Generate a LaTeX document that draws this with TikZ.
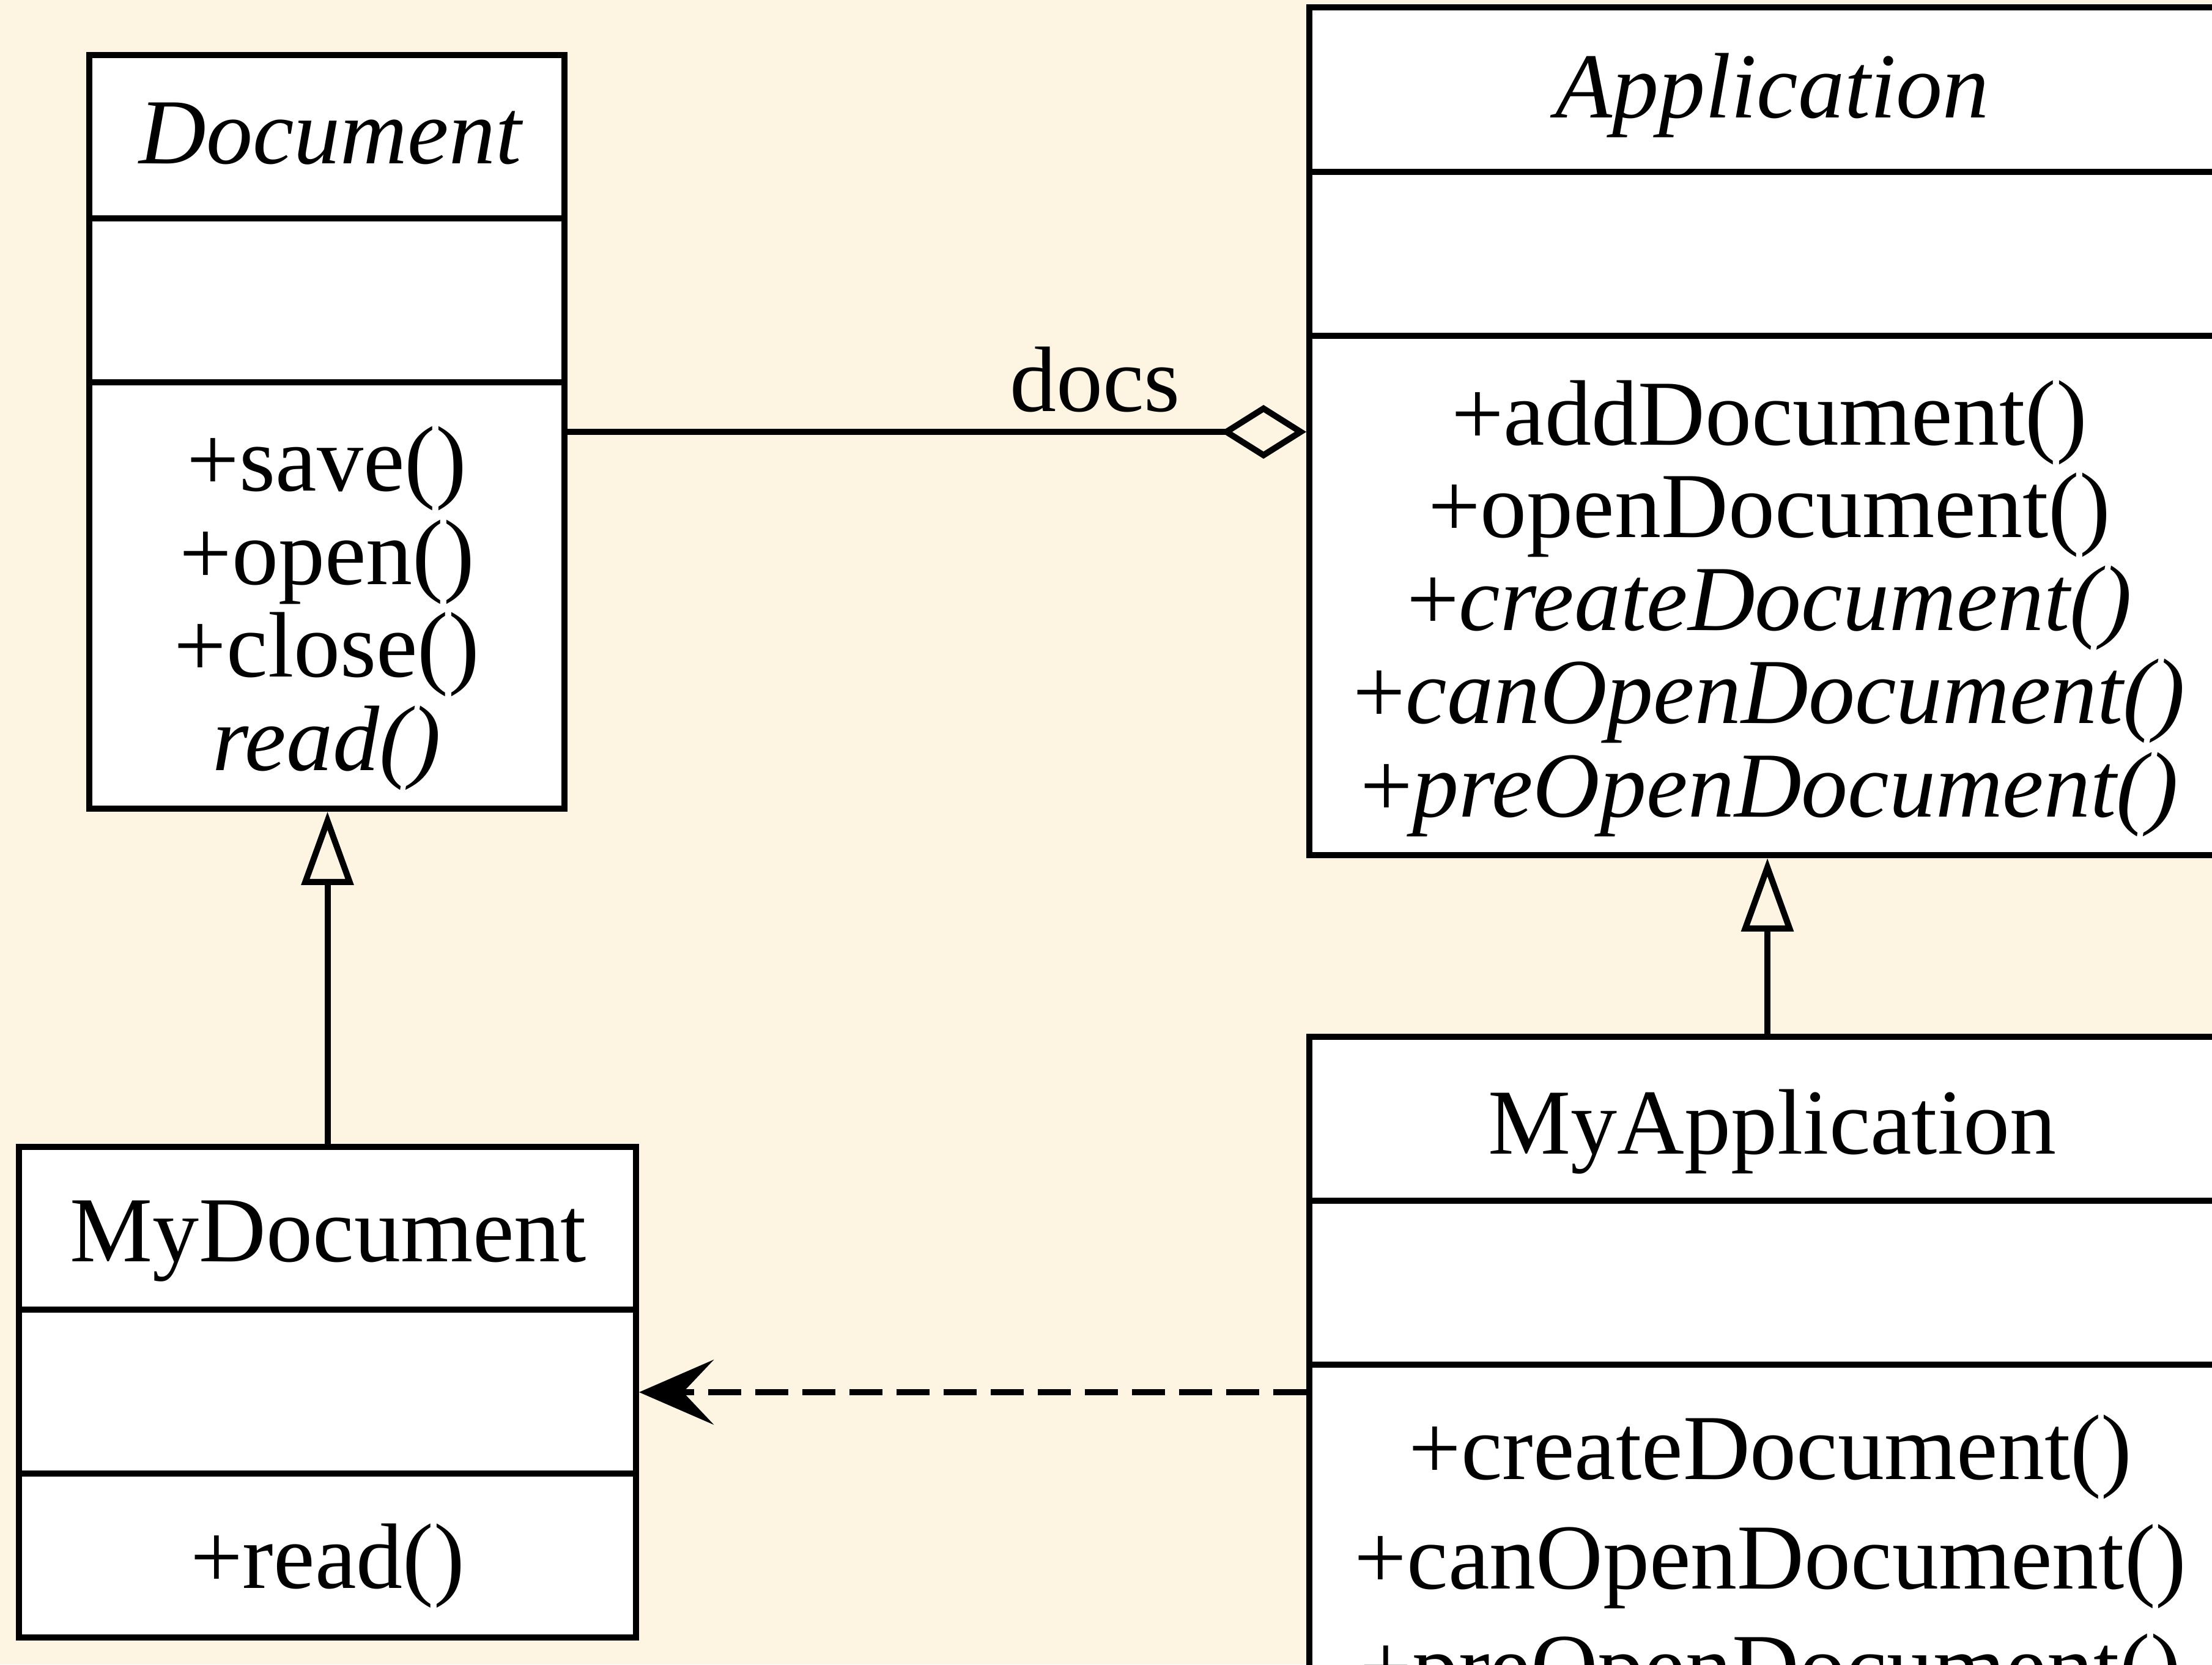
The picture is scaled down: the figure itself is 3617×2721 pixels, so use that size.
\documentclass[tikz,border=0pt]{standalone}
\usepackage{fontspec}
\setmainfont{Liberation Serif}
\usetikzlibrary{arrows.meta}
\definecolor{bgcream}{RGB}{253,245,226}
\begin{document}
\begin{tikzpicture}[x=0.1pt,y=-0.1pt,
  classbox/.style={draw=black, fill=white, line width=1pt, inner sep=0pt},
  sep/.style={line width=1pt},
  txt/.style={anchor=base, inner sep=0pt, font=\fontsize{15.2}{15.2}\selectfont},
  itxt/.style={txt, font=\fontsize{15.2}{15.2}\selectfont\itshape},
  gen/.style={line width=1pt, -{Triangle[open, length=12pt, width=8.4pt]}},
  agg/.style={line width=1pt, -{Diamond[open, length=14pt, width=8.8pt]}},
  dep/.style={line width=1pt, dash pattern=on 5.4pt off 2.3pt,
              -{Stealth[length=12.2pt, width=10.6pt, inset=5pt]}}]
\fill[bgcream] (0,0) rectangle (3617,2721);
\useasboundingbox (0,0) rectangle (3617,2721);
\clip (0,0) rectangle (3617,2721);

% Document
\node[classbox, minimum width=77.7pt, minimum height=123.2pt] (doc) at (534.5,706) {};
\draw[sep] (146,357) -- (923,357);
\draw[sep] (146,625) -- (923,625);
\node[itxt] (docname) at (540,267) {Document};
\node[txt] (docm1) at (534.5,802) {+save()};
\node[txt] (docm2) at (534.5,955) {+open()};
\node[txt] (docm3) at (534.5,1106) {+close()};
\node[itxt] (docm4) at (534.5,1259) {read()};

% Application
\node[classbox, minimum width=149.8pt, minimum height=138.6pt] (app) at (2890,705) {};
\draw[sep] (2141,281) -- (3639,281);
\draw[sep] (2141,549) -- (3639,549);
\node[itxt] (appname) at (2898,193) {Application};
\node[txt] (appm1) at (2893,727) {+addDocument()};
\node[txt] (appm2) at (2893,878) {+openDocument()};
\node[txt] (appm3) at (2893,1030) {+\textit{createDocument()}};
\node[txt] (appm4) at (2893,1182) {+\textit{canOpenDocument()}};
\node[txt] (appm5) at (2893,1335) {+\textit{preOpenDocument()}};

% MyDocument
\node[classbox, minimum width=100.9pt, minimum height=80.2pt] (mydoc) at (535.5,2276) {};
\draw[sep] (31,2141) -- (1040,2141);
\draw[sep] (31,2409) -- (1040,2409);
\node[txt] (mydocname) at (537,2062) {MyDocument};
\node[txt] (mydocm1) at (535.5,2596) {+read()};

% MyApplication
\node[classbox, minimum width=149.8pt, minimum height=125.5pt] (myapp) at (2890,2322.5) {};
\draw[sep] (2141,1963) -- (3639,1963);
\draw[sep] (2141,2231) -- (3639,2231);
\node[txt] (myappname) at (2898,1886) {MyApplication};
\node[txt] (myappm1) at (2895,2418) {+createDocument()};
\node[txt] (myappm2) at (2895,2597) {+canOpenDocument()};
\node[txt] (myappm3) at (2895,2776) {+preOpenDocument()};

% connectors
\draw[gen] (mydoc.north) -- (mydoc.north |- doc.south);
\draw[gen] (myapp.north) -- (myapp.north |- app.south);
\draw[agg] (doc.east) -- (doc.east -| app.west)
  node[pos=1, anchor=base east, inner sep=0pt, xshift=-20.1pt, yshift=3.4pt,
       font=\fontsize{15.2}{15.2}\selectfont] (docs) {docs};
\draw[dep] (myapp.west |- mydoc.east) -- (mydoc.east);
\end{tikzpicture}
\end{document}
